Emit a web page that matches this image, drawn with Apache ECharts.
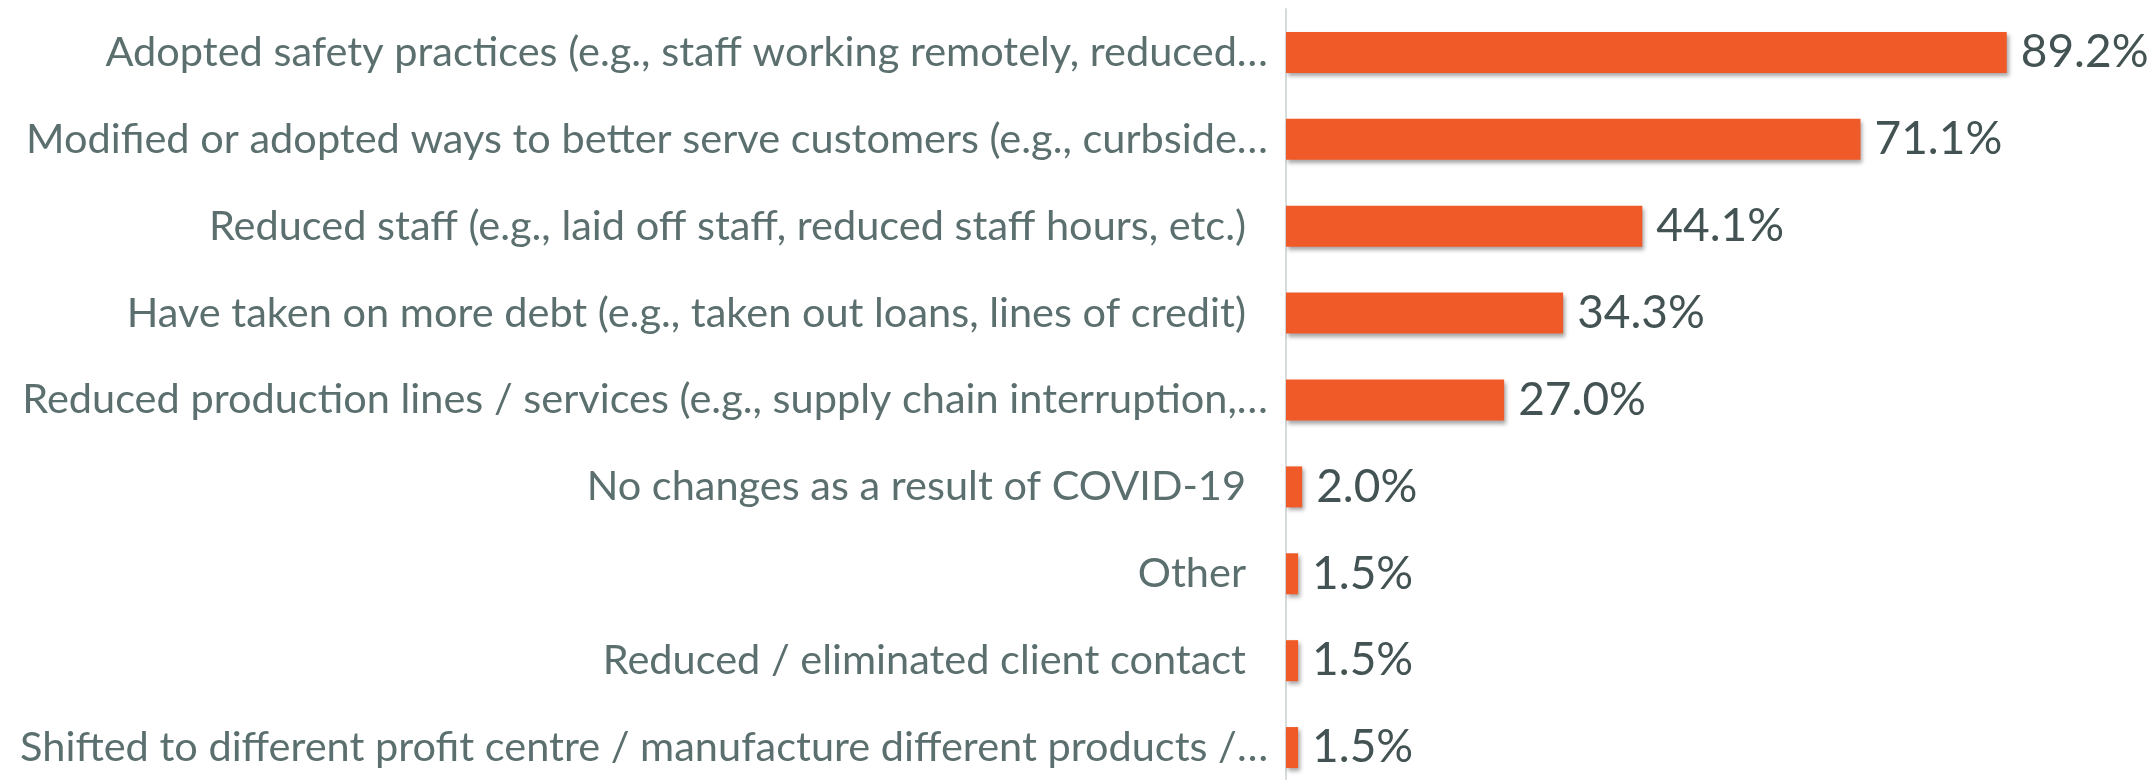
<!DOCTYPE html>
<html>
<head>
<meta charset="utf-8">
<script src="https://cdn.jsdelivr.net/npm/echarts@6/dist/echarts.min.js"></script>
<style>
  html, body { margin: 0; padding: 0; background: #fff; }
  #chart { width: 2156px; height: 780px; }
</style>
</head>
<body>
<div id="chart"></div>
<script>
// top-to-bottom order as shown
var categories = [
  'Adopted safety practices (e.g., staff working remotely, reduced…',
  'Modified or adopted ways to better serve customers (e.g., curbside…',
  'Reduced staff (e.g., laid off staff, reduced staff hours, etc.)',
  'Have taken on more debt (e.g., taken out loans, lines of credit)',
  'Reduced production lines / services (e.g., supply chain interruption,…',
  'No changes as a result of COVID-19',
  'Other',
  'Reduced / eliminated client contact',
  'Shifted to different profit centre / manufacture different products /…'
];
var values = [89.2, 71.1, 44.1, 34.3, 27.0, 2.0, 1.5, 1.5, 1.5];

var chart = echarts.init(document.getElementById('chart'));
chart.setOption({
  animation: false,
  grid: { left: 1286, right: 62, top: 9, bottom: -11, outerBoundsMode: 'none' },
  xAxis: {
    type: 'value',
    min: 0,
    max: 100,
    show: false
  },
  yAxis: {
    type: 'category',
    inverse: true,
    data: categories,
    axisLine: { show: true, lineStyle: { color: '#d6dcdc', width: 2 } },
    axisTick: { show: false },
    axisLabel: {
      margin: 18,
      fontFamily: 'Lato',
      fontSize: 41.5,
      color: '#5b6f6f',
      formatter: function (v) {
        return v.slice(-1) === '…' ? v : '{p|' + v + '}';
      },
      rich: {
        p: { fontFamily: 'Lato', fontSize: 41.5, color: '#5b6f6f', padding: [0, 22, 0, 0] }
      }
    }
  },
  series: [{
    type: 'bar',
    data: values,
    barWidth: 41,
    itemStyle: {
      color: '#f05a28',
      shadowColor: 'rgba(0,0,0,0.35)',
      shadowBlur: 4,
      shadowOffsetX: 2,
      shadowOffsetY: 3
    },
    label: {
      show: true,
      position: 'right',
      distance: 14,
      fontFamily: 'Lato',
      fontSize: 46,
      color: '#435353',
      formatter: function (p) { return p.value.toFixed(1) + '%'; }
    }
  }]
});
</script>
</body>
</html>
